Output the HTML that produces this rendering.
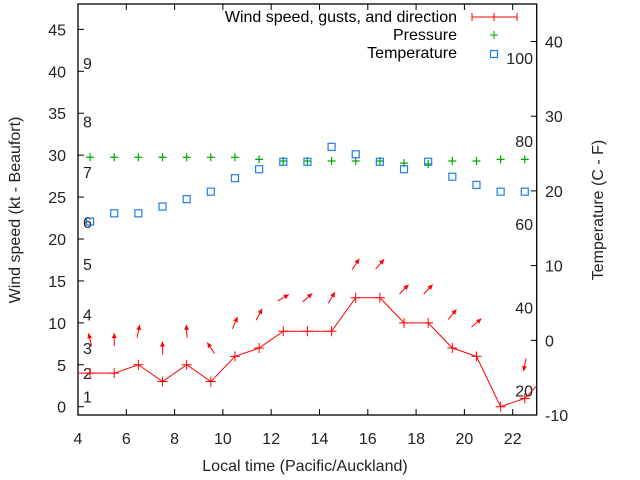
<!DOCTYPE html>
<html><head><meta charset="utf-8"><style>
html,body{margin:0;padding:0;background:#fff;}
svg{display:block;font-family:"Liberation Sans",sans-serif;font-size:16px;}
</style></head><body>
<svg id="chart" width="640" height="480" viewBox="0 0 640 480">
<defs><clipPath id="plotclip"><rect x="78" y="4" width="458.7" height="411"/></clipPath></defs>
<g id="axes"></g>
<g id="marks" clip-path="url(#plotclip)"></g>
<g id="legend">
 <text x="457" y="22" text-anchor="end">Wind speed, gusts, and direction</text>
 <line x1="472" y1="17" x2="517" y2="17" stroke="#f00"/>
 <path d="M472 13v8M517 13v8M490 17h8M494 13v8" stroke="#f00"/>
 <text x="457" y="40" text-anchor="end">Pressure</text>
 <path d="M490 35h8M494 31v8" stroke="#0a0"/>
 <text x="457" y="58" text-anchor="end">Temperature</text>
 <rect x="490.5" y="50.5" width="7" height="7" fill="none" stroke="#1e7fe8" stroke-width="1.2"/>
</g>
</svg>
<script>
const hours=[3.5,4.5,5.5,6.5,7.5,8.5,9.5,10.5,11.5,12.5,13.5,14.5,15.5,16.5,17.5,18.5,19.5,20.5,21.5,22.5,23.5];
const windSpeed=[4,4,4,5,3,5,3,6,7,9,9,9,13,13,10,10,7,6,0,1,4];
const obsHours=[4.5,5.5,6.5,7.5,8.5,9.5,10.5,11.5,12.5,13.5,14.5,15.5,16.5,17.5,18.5,19.5,20.5,21.5,22.5];
const gusts=[8,8,9,7,9,7,10,11,13,13,13,17,17,14,14,11,10,null,5];
const windHeading=[347,0,12,358,357,327,23,28,60,48,31,34,41,44,44,39,50,null,191];
const pressure=[29.75,29.75,29.75,29.75,29.75,29.75,29.75,29.5,29.3,29.3,29.3,29.3,29.3,29.05,28.95,29.3,29.3,29.5,29.5];
const temperature=[15.9,17,17,17.9,18.9,19.9,21.7,22.9,23.9,23.9,25.9,24.9,23.9,22.9,23.9,21.9,20.8,19.9,19.9];
const xTicks=[4,6,8,10,12,14,16,18,20,22];
const yTicks=[0,5,10,15,20,25,30,35,40,45];
const y2Ticks=[-10,0,10,20,30,40];
const beaufortLabels=["1","2","3","4","5","6","7","8","9"];
const beaufortPos=[1.2,4,7,11,17,22,28,34,41];
const fahrenheitLabels=["20","40","60","80","100"];
const fahrenheitC=[-6.7,4.4,15.6,26.7,37.8];

const L=78,R=536.7,T=4,B=415;
const X=v=>78+(v-4)*24.15;
const Y=v=>406.7-v*8.385;
const Y2=v=>340.3-v*7.47;
const NS="http://www.w3.org/2000/svg";
function mk(tag,attrs,parent){const e=document.createElementNS(NS,tag);for(const k in attrs)e.setAttribute(k,attrs[k]);parent.appendChild(e);return e;}
const ax=document.getElementById('axes'),mg=document.getElementById('marks');

let f=mk('rect',{x:L,y:T,width:R-L,height:B-T,fill:'none',stroke:'#000','stroke-width':1.3},ax);


xTicks.forEach(t=>{
 let g=mk('path',{d:`M${X(t)} ${B}v-6M${X(t)} ${T}v6`,stroke:'#000'},ax);
 
 
 let tx=mk('text',{x:X(t),y:444,'text-anchor':'middle',fill:'#222'},ax);tx.textContent=t;
 
 
});
yTicks.forEach(t=>{
 let g=mk('path',{d:`M${L} ${Y(t)}h6`,stroke:'#000'},ax);
 
 
 let tx=mk('text',{x:66,y:Y(t)+6,'text-anchor':'end',fill:'#222'},ax);tx.textContent=t;
 
 
});
y2Ticks.forEach(t=>{
 let g=mk('path',{d:`M${R} ${Y2(t)}h-6`,stroke:'#000'},ax);
 
 
 let tx=mk('text',{x:545,y:Y2(t)+6,'text-anchor':'start',fill:'#222'},ax);tx.textContent=t;
 
 
});
beaufortLabels.forEach((s,i)=>{
 let tx=mk('text',{x:83,y:Y(beaufortPos[i])+6,fill:'#222'},ax);tx.textContent=s;
 
 
});
fahrenheitLabels.forEach((s,i)=>{
 let tx=mk('text',{x:533,y:Y2(fahrenheitC[i])+6,'text-anchor':'end',fill:'#222'},ax);tx.textContent=s;
 
 
});
let xt=mk('text',{x:305,y:471,'text-anchor':'middle',fill:'#222'},ax);xt.textContent='Local time (Pacific/Auckland)';


let yt=mk('text',{x:0,y:0,'text-anchor':'middle',fill:'#222',transform:'translate(20,210) rotate(-90)'},ax);yt.textContent='Wind speed (kt - Beaufort)';


let y2t=mk('text',{x:0,y:0,'text-anchor':'middle',fill:'#222',transform:'translate(603,210) rotate(-90)'},ax);y2t.textContent='Temperature (C - F)';



let pts=hours.map((h,i)=>X(h)+','+Y(windSpeed[i])).join(' ');
let wl=mk('polyline',{points:pts,fill:'none',stroke:'#f00'},mg);


hours.forEach((h,i)=>{
 let m=mk('path',{d:`M${X(h)-5} ${Y(windSpeed[i])}h10M${X(h)} ${Y(windSpeed[i])-5}v10`,stroke:'#f00'},mg);
 
 
});
obsHours.forEach((h,i)=>{
 if(gusts[i]==null)return;
 const a=windHeading[i]*Math.PI/180,len=13;
 const dx=Math.sin(a)*len/2,dy=-Math.cos(a)*len/2;
 const cx=X(h),cy=Y(gusts[i]);
 const hx=cx+dx,hy=cy+dy,tx=cx-dx,ty=cy-dy;
 const ux=dx/(len/2),uy=dy/(len/2);
 const bx=hx-ux*5,by=hy-uy*5;
 const g=mk('g',{},mg);
 
 
 mk('line',{x1:tx,y1:ty,x2:hx,y2:hy,stroke:'#f00'},g);
 mk('polygon',{points:`${hx},${hy} ${bx-uy*2.5},${by+ux*2.5} ${bx+uy*2.5},${by-ux*2.5}`,fill:'#f00'},g);
});
obsHours.forEach((h,i)=>{
 let m=mk('path',{d:`M${X(h)-4} ${Y(pressure[i])}h8M${X(h)} ${Y(pressure[i])-4}v8`,stroke:'#0a0','stroke-width':1.2},mg);
 
 
});
obsHours.forEach((h,i)=>{
 let m=mk('rect',{x:X(h)-3.5,y:Y2(temperature[i])-3.5,width:7,height:7,fill:'none',stroke:'#1e7fe8','stroke-width':1.2},mg);
 
 
});
</script>
</body></html>
